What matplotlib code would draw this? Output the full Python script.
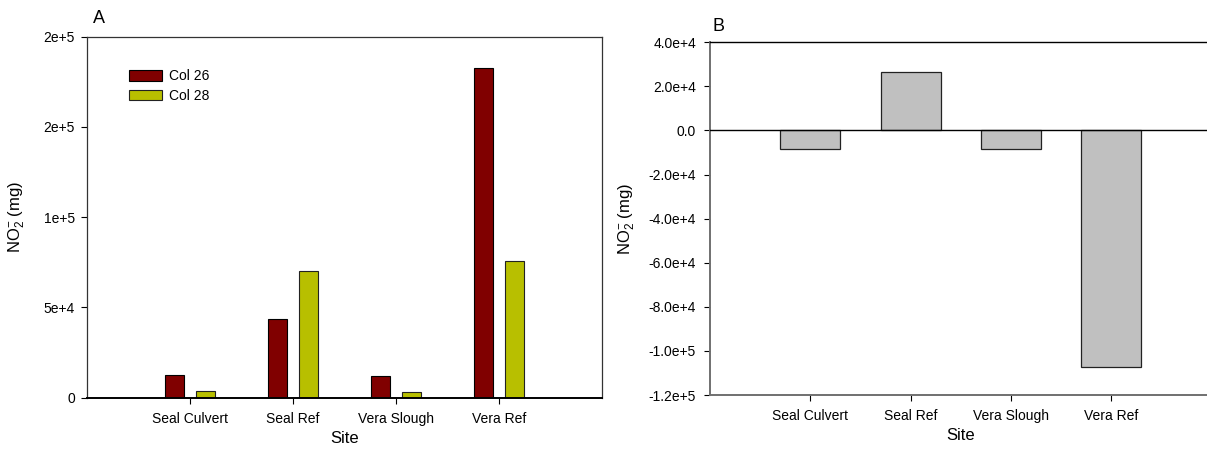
import matplotlib
matplotlib.use("Agg")
import matplotlib.pyplot as plt
import numpy as np
from matplotlib.patches import Patch

plt.rcParams['font.family'] = ['Liberation Sans', 'DejaVu Sans']
plt.rcParams['mathtext.fontset'] = 'custom'
plt.rcParams['mathtext.rm'] = 'Liberation Sans'
plt.rcParams['mathtext.it'] = 'Liberation Sans'

# Sites and measured values
sites = ["Seal Culvert", "Seal Ref", "Vera Slough", "Vera Ref"]
col26 = [12400, 43700, 11800, 182600]
col28 = [3900, 70300, 3150, 75500]
difference = [-8500, 26600, -8500, -107300]

a_ticks = [0, 50000, 100000, 150000, 200000]
a_ticklabels = ["0", "5e+4", "1e+5", "2e+5", "2e+5"]
b_ticks = [40000, 20000, 0, -20000, -40000, -60000, -80000, -100000, -120000]
b_ticklabels = ["4.0e+4", "2.0e+4", "0.0", "-2.0e+4", "-4.0e+4", "-6.0e+4",
                "-8.0e+4", "-1.0e+5", "-1.2e+5"]

c26 = "#800000"
c28 = "#b8bf00"
cgray = "#c0c0c0"

W, H = 1207, 449
fig = plt.figure(figsize=(W / 100, H / 100), dpi=100)

ylabel = r"NO$_2^{\mathregular{-}}$ (mg)"
x = np.arange(1, len(sites) + 1)

# ---- Panel A: grouped bars ----
axA = fig.add_axes([87.3 / W, 1 - 397.7 / H, 514.4 / W, 361 / H])
bw = 0.184
off = 0.148
axA.bar(x - off, col26, width=bw, color=c26, edgecolor="black", linewidth=0.8, label="Col 26")
axA.bar(x + off, col28, width=bw, color=c28, edgecolor="#222222", linewidth=0.8, label="Col 28")
axA.set_xlim(0, 5)
axA.set_ylim(0, 200000)
axA.set_yticks(a_ticks)
axA.set_yticklabels(a_ticklabels)
axA.set_xticks(x)
axA.set_xticklabels(sites)
for sp in axA.spines.values():
    sp.set_color("#333333")
    sp.set_linewidth(0.9)
axA.spines["bottom"].set_color("black")
axA.spines["bottom"].set_linewidth(1.4)
axA.tick_params(axis="both", direction="out", length=4, width=0.8, labelsize=10, colors="black")
axA.tick_params(axis="y", pad=5)
axA.tick_params(axis="x", pad=6)
axA.set_xlabel("Site", fontsize=12, labelpad=4)
axA.set_ylabel(ylabel, fontsize=12)
axA.yaxis.set_label_coords(-0.117, 0.5)
axA.text(93 / W, 1 - 23 / H, "A", transform=fig.transFigure, fontsize=13, ha="left", va="baseline")

handles = [Patch(facecolor=c26, edgecolor="black", linewidth=0.8),
           Patch(facecolor=c28, edgecolor="#222222", linewidth=0.8)]
fig.legend(handles, ["Col 26", "Col 28"], loc="upper left",
           bbox_to_anchor=(129 / W, 1 - 69.5 / H), frameon=False, fontsize=10,
           handlelength=2.35, handleheight=0.79, handletextpad=0.55,
           labelspacing=0.38, borderpad=0, borderaxespad=0)

# ---- Panel B: difference bars ----
axB = fig.add_axes([710 / W, 1 - 395 / H, 501.5 / W, 352.7 / H])
axB.bar(x, difference, width=0.6, color=cgray, edgecolor="#222222", linewidth=0.9)
axB.axhline(0, color="black", linewidth=1.0, zorder=3)
axB.set_xlim(0, 5)
axB.set_ylim(-120000, 40000)
axB.set_yticks(b_ticks)
axB.set_yticklabels(b_ticklabels)
axB.set_xticks(x)
axB.set_xticklabels(sites)
axB.spines["left"].set_color("#707070")
axB.spines["bottom"].set_color("#707070")
axB.spines["top"].set_color("black")
axB.spines["right"].set_visible(False)
for sp in axB.spines.values():
    sp.set_linewidth(1.0)
axB.spines["left"].set_linewidth(1.4)
axB.spines["bottom"].set_linewidth(1.4)
axB.tick_params(axis="both", direction="out", length=4, width=0.8, labelsize=10, colors="black")
axB.tick_params(axis="y", pad=6)
axB.tick_params(axis="x", pad=6)
axB.set_xlabel("Site", fontsize=12, labelpad=4)
axB.set_ylabel(ylabel, fontsize=12)
axB.yaxis.set_label_coords(-0.146, 0.5)
axB.text(713 / W, 1 - 31 / H, "B", transform=fig.transFigure, fontsize=13, ha="left", va="baseline")

fig.savefig("out.png", dpi=100)
